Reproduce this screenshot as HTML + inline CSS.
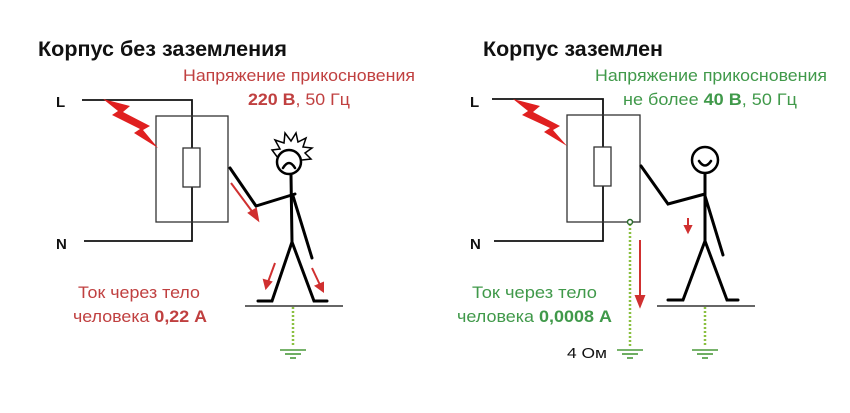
<!DOCTYPE html>
<html><head><meta charset="utf-8"><style>
html,body{margin:0;padding:0;background:#fff;}
svg{display:block;}
text{font-family:"Liberation Sans",sans-serif;}
</style></head><body>
<svg width="850" height="413" viewBox="0 0 850 413" xmlns="http://www.w3.org/2000/svg">
<rect width="850" height="413" fill="#fff"/>
<!-- LEFT -->
<text x="38" y="56" font-size="21" font-weight="bold" fill="#111" textLength="249" lengthAdjust="spacingAndGlyphs">Корпус без заземления</text>
<text x="183" y="81" font-size="17" fill="#c04040" textLength="232" lengthAdjust="spacingAndGlyphs">Напряжение прикосновения</text>
<text x="248" y="105" font-size="17" fill="#c04040" textLength="102" lengthAdjust="spacingAndGlyphs"><tspan font-weight="bold">220 В</tspan>, 50 Гц</text>
<text x="56" y="107" font-size="15" font-weight="bold" fill="#111">L</text>
<text x="56" y="249" font-size="15" font-weight="bold" fill="#111">N</text>
<polyline points="82,100 192,100 192,241 84,241" fill="none" stroke="#111" stroke-width="1.8"/>
<rect x="156" y="116" width="72" height="106" fill="none" stroke="#333" stroke-width="1.3"/>
<rect x="183" y="148" width="17" height="39" fill="#fff" stroke="#333" stroke-width="1.3"/>
<polygon points="103,99 130,106 123,112 150,126 143,130 158,148 134,133 140,129 112,115 118,111" fill="#e02020"/>
<!-- person left -->
<g stroke="#000" stroke-width="3" fill="none" stroke-linecap="round">
<polyline points="230,168 256,206 295,194"/>
<line x1="291" y1="175" x2="292" y2="242"/>
<line x1="293" y1="196" x2="312" y2="258"/>
<polyline points="292,242 272,301 258,301"/>
<polyline points="292,242 314,301 327,301"/>
<circle cx="289" cy="162" r="12" stroke-width="2.5"/>
<path d="M283,168 Q289,158 295,168" stroke-width="2.5"/>
</g>
<polyline points="278,158 272,150 280,149 275,140 284,143 285,133 291,141 296,133 298,142 306,138 303,147 312,148 305,153 311,159 302,160" fill="none" stroke="#000" stroke-width="1.5"/>
<line x1="245" y1="306" x2="343" y2="306" stroke="#333" stroke-width="1.5"/>
<line x1="293" y1="307" x2="293" y2="347" stroke="#8ac040" stroke-width="2.5" stroke-dasharray="2,2"/>
<g stroke="#4a9a3a" stroke-width="1.6"><line x1="280" y1="350" x2="306" y2="350"/><line x1="285" y1="354" x2="301" y2="354"/><line x1="290" y1="358" x2="296" y2="358"/></g>
<g stroke="#d03030" stroke-width="2" fill="#d03030">
<line x1="231" y1="183" x2="254" y2="214"/><polygon points="258,220 249,213 256,209"/>
<line x1="275" y1="263" x2="268" y2="282"/><polygon points="266,288 264,280 271,282"/>
<line x1="312" y1="268" x2="320" y2="285"/><polygon points="323,291 316,286 323,283"/>
</g>
<text x="78" y="298" font-size="17" fill="#c04040" textLength="122" lengthAdjust="spacingAndGlyphs">Ток через тело</text>
<text x="73" y="322" font-size="17" fill="#c04040" textLength="134" lengthAdjust="spacingAndGlyphs">человека <tspan font-weight="bold">0,22 А</tspan></text>

<!-- RIGHT -->
<text x="483" y="56" font-size="21" font-weight="bold" fill="#111" textLength="180" lengthAdjust="spacingAndGlyphs">Корпус заземлен</text>
<text x="595" y="81" font-size="17" fill="#40994a" textLength="232" lengthAdjust="spacingAndGlyphs">Напряжение прикосновения</text>
<text x="623" y="105" font-size="17" fill="#40994a" textLength="174" lengthAdjust="spacingAndGlyphs">не более <tspan font-weight="bold">40 В</tspan>, 50 Гц</text>
<text x="470" y="107" font-size="15" font-weight="bold" fill="#111">L</text>
<text x="470" y="249" font-size="15" font-weight="bold" fill="#111">N</text>
<polyline points="492,99 603,99 603,241 494,241" fill="none" stroke="#111" stroke-width="1.8"/>
<rect x="567" y="115" width="73" height="107" fill="none" stroke="#333" stroke-width="1.3"/>
<rect x="594" y="147" width="17" height="39" fill="#fff" stroke="#333" stroke-width="1.3"/>
<polygon points="513,99 540,106 533,112 560,126 553,130 567,146 544,132 550,128 522,115 528,111" fill="#e02020"/>
<line x1="630" y1="224" x2="630" y2="347" stroke="#8ac040" stroke-width="2.5" stroke-dasharray="2,2"/>
<circle cx="630" cy="222" r="2.5" fill="#fff" stroke="#2a6a2a" stroke-width="1.5"/>
<g stroke="#4a9a3a" stroke-width="1.6"><line x1="617" y1="350" x2="643" y2="350"/><line x1="622" y1="354" x2="638" y2="354"/><line x1="627" y1="358" x2="633" y2="358"/></g>
<text x="567" y="358" font-size="15" fill="#111" textLength="40" lengthAdjust="spacingAndGlyphs">4 Ом</text>
<g stroke="#000" stroke-width="3" fill="none" stroke-linecap="round">
<polyline points="641,166 668,204 705,194"/>
<line x1="705" y1="174" x2="705" y2="241"/>
<line x1="705" y1="196" x2="723" y2="255"/>
<polyline points="705,241 683,300 668,300"/>
<polyline points="705,241 727,300 738,300"/>
<circle cx="705" cy="160" r="13" stroke-width="2.5"/>
<path d="M699,161 Q705,170 711,161" stroke-width="2.5"/>
</g>
<line x1="657" y1="306" x2="755" y2="306" stroke="#333" stroke-width="1.5"/>
<line x1="705" y1="307" x2="705" y2="347" stroke="#8ac040" stroke-width="2.5" stroke-dasharray="2,2"/>
<g stroke="#4a9a3a" stroke-width="1.6"><line x1="692" y1="350" x2="718" y2="350"/><line x1="697" y1="354" x2="713" y2="354"/><line x1="702" y1="358" x2="708" y2="358"/></g>
<g stroke="#d03030" stroke-width="2" fill="#d03030">
<line x1="640" y1="240" x2="640" y2="298"/><polygon points="636,296 644,296 640,306"/>
<line x1="688" y1="218" x2="688" y2="227"/><polygon points="685,226 691,226 688,232"/>
</g>
<text x="472" y="298" font-size="17" fill="#40994a" textLength="125" lengthAdjust="spacingAndGlyphs">Ток через тело</text>
<text x="457" y="322" font-size="17" fill="#40994a" textLength="155" lengthAdjust="spacingAndGlyphs">человека <tspan font-weight="bold">0,0008 А</tspan></text>
</svg>
</body></html>
